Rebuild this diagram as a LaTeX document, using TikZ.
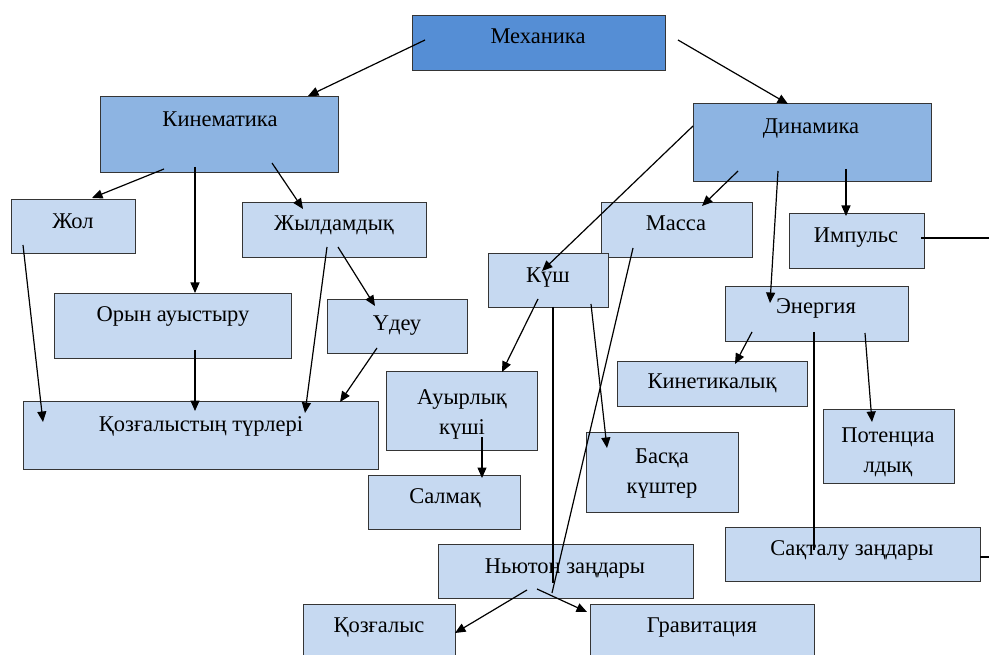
\documentclass[tikz,border=0pt]{standalone}
\usepackage{fontspec}
\setmainfont{Liberation Serif}
\usetikzlibrary{arrows.meta}
\definecolor{cdark}{HTML}{558ED5}
\definecolor{cmid}{HTML}{8DB4E2}
\definecolor{clight}{HTML}{C6D9F1}
\definecolor{cedge}{HTML}{353535}
\tikzset{
  box/.style={draw=cedge, line width=1.3pt, rectangle, inner sep=0pt, anchor=north west},
  lbl/.style={font=\fontsize{22.5}{30}\selectfont, inner sep=0pt, text=black, align=center, yshift=-3pt},
  arr/.style={-{Triangle[length=10.5pt,width=9pt]}, line width=1.2pt, black},
  ln/.style={line width=1.2pt, black},
}
\begin{document}
\begin{tikzpicture}[x=1pt,y=-1pt]
\useasboundingbox (0,0) rectangle (989,655);
\clip (0,0) rectangle (989,655);
\fill[white] (0,0) rectangle (989,655);
% boxes
\node[box, fill=cdark,  minimum width=253pt, minimum height=55pt] (mech) at (412,15) {};
\node[box, fill=cmid,   minimum width=238pt, minimum height=76pt] (kin) at (100,96) {};
\node[box, fill=cmid,   minimum width=238pt, minimum height=78pt] (din) at (693,103) {};
\node[box, fill=clight, minimum width=124pt, minimum height=54pt] (zhol) at (11,199) {};
\node[box, fill=clight, minimum width=184pt, minimum height=55pt] (zhyl) at (242,202) {};
\node[box, fill=clight, minimum width=237pt, minimum height=65pt] (orin) at (54,293) {};
\node[box, fill=clight, minimum width=140pt, minimum height=54pt] (udeu) at (327,299) {};
\node[box, fill=clight, minimum width=355pt, minimum height=68pt] (qoz) at (23,401) {};
\node[box, fill=clight, minimum width=151pt, minimum height=79pt] (auyr) at (386,371) {};
\node[box, fill=clight, minimum width=152pt, minimum height=54pt] (salm) at (368,475) {};
\node[box, fill=clight, minimum width=255pt, minimum height=54pt] (newt) at (438,544) {};
\node[box, fill=clight, minimum width=152pt, minimum height=70pt] (qozg) at (303,604) {};
\node[box, fill=clight, minimum width=224pt, minimum height=70pt] (grav) at (590,604) {};
\node[box, fill=clight, minimum width=151pt, minimum height=55pt] (masa) at (601,202) {};
\node[box, fill=clight, minimum width=135pt, minimum height=55pt] (imp) at (789,213) {};
\node[box, fill=clight, minimum width=120pt, minimum height=54pt] (kush) at (488,253) {};
\node[box, fill=clight, minimum width=183pt, minimum height=55pt] (energ) at (725,286) {};
\node[box, fill=clight, minimum width=152pt, minimum height=80pt] (basqa) at (586,432) {};
\node[box, fill=clight, minimum width=190pt, minimum height=45pt] (kinet) at (617,361) {};
\node[box, fill=clight, minimum width=131pt, minimum height=74pt] (poten) at (823,409) {};
\node[box, fill=clight, minimum width=255pt, minimum height=54pt] (saqt) at (725,527) {};
% labels
\node[lbl, anchor=mid] (mech-t) at (538,38) {Механика};
\node[lbl, anchor=mid] (kin-t) at (220,121) {Кинематика};
\node[lbl, anchor=mid] (din-t) at (811,128) {Динамика};
\node[lbl, anchor=mid] (zhol-t) at (73,223) {Жол};
\node[lbl, anchor=mid] (zhyl-t) at (334,225) {Жылдамдық};
\node[lbl, anchor=mid] (orin-t) at (173,316) {Орын ауыстыру};
\node[lbl, anchor=mid] (udeu-t) at (397,325) {Үдеу};
\node[lbl, anchor=mid] (qoz-t) at (201,426) {Қозғалыстың түрлері};
\node[lbl] (auyr-t) at (462,411) {Ауырлық\\күші};
\node[lbl, anchor=mid] (salm-t) at (445,498) {Салмақ};
\node[lbl, anchor=mid] (newt-t) at (565,568) {Ньютон заңдары};
\node[lbl, anchor=mid] (qozg-t) at (379,627) {Қозғалыс};
\node[lbl, anchor=mid] (grav-t) at (702,627) {Гравитация};
\node[lbl, anchor=mid] (masa-t) at (676,225) {Масса};
\node[lbl, anchor=mid] (imp-t) at (856,237) {Импульс};
\node[lbl, anchor=mid] (kush-t) at (548,277) {Күш};
\node[lbl, anchor=mid] (energ-t) at (816,308) {Энергия};
\node[lbl] (basqa-t) at (662,471) {Басқа\\күштер};
\node[lbl, anchor=mid] (kinet-t) at (712,383) {Кинетикалық};
\node[lbl] (poten-t) at (888,449) {Потенциа\\лдық};
\node[lbl, anchor=mid] (saqt-t) at (852,550) {Сақталу заңдары};
% free ends
\coordinate (edgeA) at (989,238);
\coordinate (edgeB) at (989,557);
% connectors
\draw[arr] ([shift={(13,25)}]mech.north west) -- ([shift={(208,0)}]kin.north west);
\draw[arr] ([shift={(266,25)}]mech.north west) -- ([shift={(95,1)}]din.north west);
\draw[arr] ([shift={(64,73)}]kin.north west) -- ([shift={(81,-1)}]zhol.north west);
\draw[arr] ([shift={(95,71)}]kin.north west) -- ([shift={(141,0)}]orin.north west);
\draw[arr] ([shift={(172,67)}]kin.north west) -- ([shift={(61,7)}]zhyl.north west);
\draw[arr] ([shift={(12,46)}]zhol.north west) -- ([shift={(20,21)}]qoz.north west);
\draw[arr] ([shift={(85,45)}]zhyl.north west) -- ([shift={(282,12)}]qoz.north west);
\draw[arr] ([shift={(96,45)}]zhyl.north west) -- ([shift={(48,7)}]udeu.north west);
\draw[arr] ([shift={(141,57)}]orin.north west) -- ([shift={(172,10)}]qoz.north west);
\draw[arr] ([shift={(50,49)}]udeu.north west) -- ([shift={(317,1)}]qoz.north west);
\draw[arr] ([shift={(0,23)}]din.north west) -- ([shift={(54,18)}]kush.north west);
\draw[arr] ([shift={(45,68)}]din.north west) -- ([shift={(101,4)}]masa.north west);
\draw[arr] ([shift={(85,68)}]din.north west) -- ([shift={(45,17)}]energ.north west);
\draw[arr] ([shift={(153,66)}]din.north west) -- ([shift={(57,3)}]imp.north west);
\draw[ln]  ([shift={(132,25)}]imp.north west) -- (edgeA);
\draw[arr] ([shift={(50,46)}]kush.north west) -- ([shift={(116,1)}]auyr.north west);
\draw[ln]  ([shift={(65,54)}]kush.north west) -- ([shift={(115,39)}]newt.north west);
\draw[arr] ([shift={(103,51)}]kush.north west) -- ([shift={(21,16)}]basqa.north west);
\draw[ln]  ([shift={(32,46)}]masa.north west) -- ([shift={(114,49)}]newt.north west);
\draw[arr] ([shift={(96,66)}]auyr.north west) -- ([shift={(114,3)}]salm.north west);
\draw[arr] ([shift={(27,46)}]energ.north west) -- ([shift={(118,3)}]kinet.north west);
\draw[arr] ([shift={(140,47)}]energ.north west) -- ([shift={(49,13)}]poten.north west);
\draw[ln]  ([shift={(89,46)}]energ.north west) -- ([shift={(89,23)}]saqt.north west);
\draw[ln]  ([shift={(255,30)}]saqt.north west) -- (edgeB);
\draw[arr] ([shift={(89,46)}]newt.north west) -- ([shift={(152,29)}]qozg.north west);
\draw[arr] ([shift={(99,45)}]newt.north west) -- ([shift={(-3,8)}]grav.north west);
\end{tikzpicture}
\end{document}
